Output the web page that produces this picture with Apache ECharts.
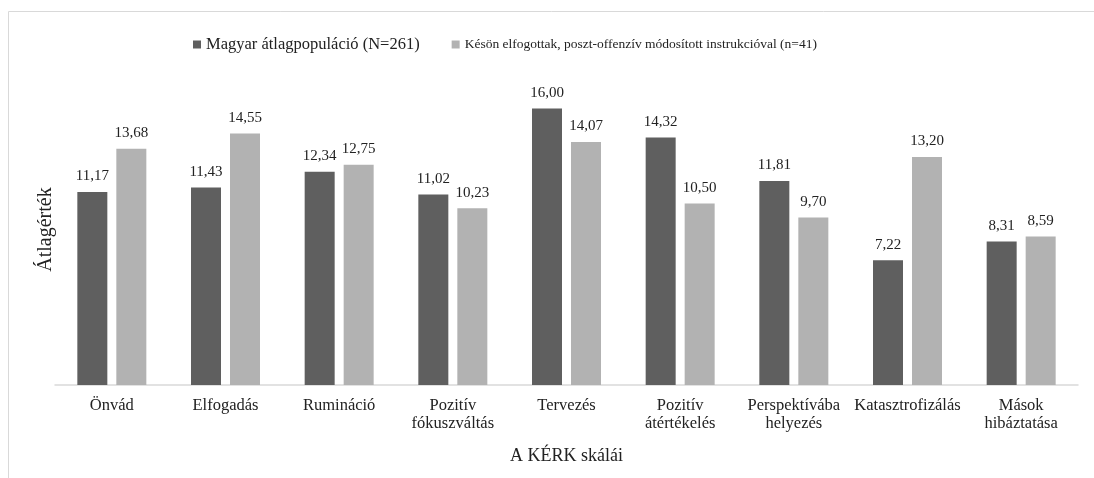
<!DOCTYPE html>
<html><head><meta charset="utf-8">
<script src="https://cdn.jsdelivr.net/npm/echarts@6/dist/echarts.min.js"></script>
<style>html,body{margin:0;padding:0;background:#fff}#c{width:1094px;height:478px}</style>
</head><body><div id="c"></div>
<script>
var categories = ['Önvád','Elfogadás','Rumináció','Pozitív\nfókuszváltás','Tervezés','Pozitív\nátértékelés','Perspektívába\nhelyezés','Katasztrofizálás','Mások\nhibáztatása'];
var seriesNames = ['Magyar átlagpopuláció (N=261)','Késön elfogottak, poszt-offenzív módosított instrukcióval (n=41)'];
var population = [11.17, 11.43, 12.34, 11.02, 16.00, 14.32, 11.81, 7.22, 8.31];
var lateAccepted = [13.68, 14.55, 12.75, 10.23, 14.07, 10.50, 9.70, 13.20, 8.59];
var F = '"Liberation Serif", "Times New Roman", serif';
var chart = echarts.init(document.getElementById('c'));
function lbl(){return {show:true,position:'top',distance:8,color:'#222',fontFamily:F,fontSize:15,
  formatter:function(p){return p.value.toFixed(2).replace('.',',');}};}
chart.setOption({
  animation:false,
  graphic:[{type:'rect',shape:{x:8.5,y:11.5,width:1200,height:600},style:{fill:'none',stroke:'#d9d9d9',lineWidth:1},silent:true}],
  legend:{top:31,left:188,itemWidth:8,itemHeight:8,itemGap:32,icon:'rect',
    data:[{name:seriesNames[0],textStyle:{fontSize:16.5}},{name:seriesNames[1],textStyle:{fontSize:13.5}}],
    textStyle:{fontFamily:F,fontSize:15,color:'#222'}},
  grid:{left:55,right:16,top:74,bottom:93,containLabel:false},
  xAxis:{type:'category',data:categories,name:'A KÉRK skálái',nameLocation:'middle',nameGap:62,
    nameTextStyle:{fontFamily:F,fontSize:18,color:'#222'},
    axisLine:{lineStyle:{color:'#d9d9d9',width:1.5}},axisTick:{show:false},
    axisLabel:{fontFamily:F,fontSize:16.5,color:'#222',margin:12,interval:0,lineHeight:18}},
  yAxis:{type:'value',min:0,max:18,interval:2,name:'Átlagérték',nameLocation:'middle',nameGap:-1,
    nameTextStyle:{fontFamily:F,fontSize:20,color:'#222'},
    axisLine:{show:false},axisTick:{show:false},axisLabel:{show:false},splitLine:{show:false}},
  series:[
    {name:seriesNames[0],type:'bar',data:population,barWidth:30,barGap:'30%',itemStyle:{color:'#5f5f5f'},label:lbl()},
    {name:seriesNames[1],type:'bar',data:lateAccepted,barWidth:30,itemStyle:{color:'#b2b2b2'},label:lbl()}
  ]
});
</script></body></html>
